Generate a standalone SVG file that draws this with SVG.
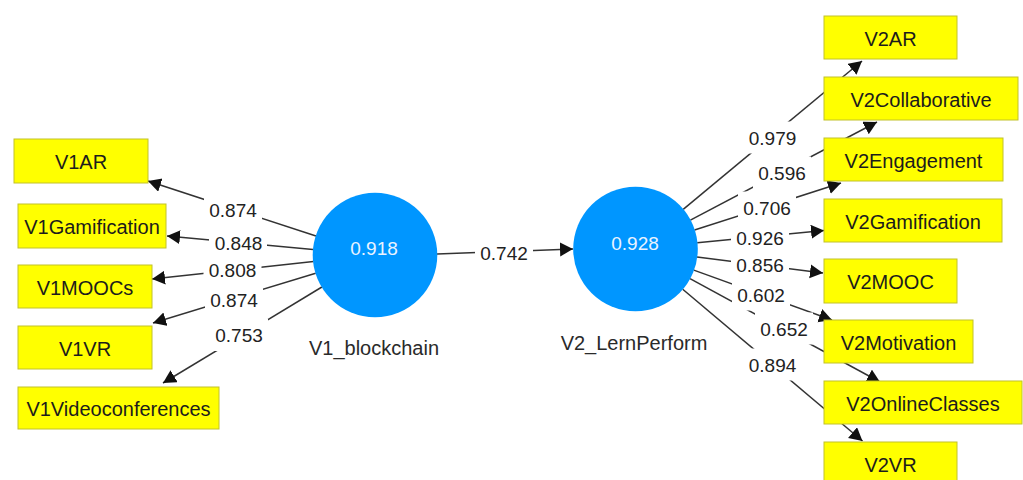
<svg xmlns="http://www.w3.org/2000/svg" width="1023" height="480" viewBox="0 0 1023 480">
  <defs>
    <marker id="arrow" markerUnits="userSpaceOnUse" markerWidth="16" markerHeight="16" refX="13" refY="7" orient="auto">
      <path d="M0,0 L13,7 L0,14 Z" fill="#111"/>
    </marker>
    <style>
      .edge { stroke: #333; stroke-width: 1.5; fill: none; marker-end: url(#arrow); }
      .lblbg { fill: #ffffff; }
      .lbl { font-family: "Liberation Sans", Arial, sans-serif; font-size: 19px; fill: #222; text-anchor: middle; }
      .box { fill: #ffff00; stroke: #c2c22a; stroke-width: 1; }
      .boxtxt { font-family: "Liberation Sans", Arial, sans-serif; font-size: 20px; fill: #1c1c1c; text-anchor: middle; }
      .lv { fill: #0096ff; }
      .lvval { font-family: "Liberation Sans", Arial, sans-serif; font-size: 19px; fill: #eaf3ff; text-anchor: middle; }
      .lvname { font-family: "Liberation Sans", Arial, sans-serif; font-size: 20px; fill: #2a2a2a; text-anchor: middle; }
    </style>
  </defs>

  <rect x="0" y="0" width="1023" height="480" fill="#ffffff"/>

  <!-- connectors: loadings and path coefficient -->
  <g id="connectors">
    <!-- V1_blockchain to its indicators -->
    <line class="edge" x1="316" y1="236" x2="148" y2="181"/>
    <line class="edge" x1="313" y1="249.4" x2="167" y2="236"/>
    <line class="edge" x1="313.4" y1="261.6" x2="152" y2="279"/>
    <line class="edge" x1="315.7" y1="273.2" x2="153" y2="323"/>
    <line class="edge" x1="321.9" y1="287" x2="163" y2="383"/>
    <!-- structural path -->
    <line class="edge" x1="437" y1="254" x2="573" y2="249"/>
    <!-- V2_LernPerform to its indicators -->
    <line class="edge" x1="683.2" y1="209.4" x2="862" y2="61"/>
    <line class="edge" x1="690.4" y1="220.1" x2="877" y2="122"/>
    <line class="edge" x1="694.5" y1="230" x2="841" y2="183"/>
    <line class="edge" x1="697.2" y1="242.8" x2="824" y2="230.5"/>
    <line class="edge" x1="697" y1="256.9" x2="823" y2="273"/>
    <line class="edge" x1="693.8" y1="270.1" x2="832" y2="320"/>
    <line class="edge" x1="690" y1="278.6" x2="880" y2="382"/>
    <line class="edge" x1="682.7" y1="289.2" x2="862.5" y2="441"/>

    <!-- coefficient labels -->
    <g id="labels">
      <rect class="lblbg" x="204" y="194" width="58" height="32"/>
      <text class="lbl" x="233" y="217">0.874</text>
      <rect class="lblbg" x="209" y="226.5" width="58" height="32"/>
      <text class="lbl" x="238.5" y="249.5">0.848</text>
      <rect class="lblbg" x="203.5" y="253.5" width="58" height="32"/>
      <text class="lbl" x="232.5" y="276.5">0.808</text>
      <rect class="lblbg" x="205" y="283.5" width="58" height="32"/>
      <text class="lbl" x="234" y="306.5">0.874</text>
      <rect class="lblbg" x="210" y="319" width="58" height="32"/>
      <text class="lbl" x="239" y="342">0.753</text>

      <rect class="lblbg" x="475" y="237" width="58" height="32"/>
      <text class="lbl" x="504" y="260">0.742</text>

      <rect class="lblbg" x="743.5" y="121.5" width="58" height="32"/>
      <text class="lbl" x="772.5" y="144.5">0.979</text>
      <rect class="lblbg" x="753" y="156.5" width="58" height="32"/>
      <text class="lbl" x="782" y="179.5">0.596</text>
      <rect class="lblbg" x="738" y="191.5" width="58" height="32"/>
      <text class="lbl" x="767" y="214.5">0.706</text>
      <rect class="lblbg" x="731" y="221.5" width="58" height="32"/>
      <text class="lbl" x="760" y="244.5">0.926</text>
      <rect class="lblbg" x="731" y="248.5" width="58" height="32"/>
      <text class="lbl" x="760" y="271.5">0.856</text>
      <rect class="lblbg" x="732" y="278.5" width="58" height="32"/>
      <text class="lbl" x="761" y="301.5">0.602</text>
      <rect class="lblbg" x="755" y="312.5" width="58" height="32"/>
      <text class="lbl" x="784" y="335.5">0.652</text>
      <rect class="lblbg" x="743.5" y="348.5" width="58" height="32"/>
      <text class="lbl" x="772.5" y="371.5">0.894</text>
    </g>
  </g>

  <!-- latent variables -->
  <g id="V1_blockchain">
    <circle class="lv" cx="375" cy="255" r="62.3"/>
    <text class="lvval" x="374" y="255">0.918</text>
    <text class="lvname" x="374" y="355">V1_blockchain</text>
  </g>
  <g id="V2_LernPerform">
    <circle class="lv" cx="635.5" cy="249" r="62.3"/>
    <text class="lvval" x="635" y="250">0.928</text>
    <text class="lvname" x="634" y="350">V2_LernPerform</text>
  </g>

  <!-- indicators of V1_blockchain -->
  <g id="V1AR">
    <rect class="box" x="14" y="139" width="134" height="44"/>
    <text class="boxtxt" x="81" y="169">V1AR</text>
  </g>
  <g id="V1Gamification">
    <rect class="box" x="18" y="204" width="148" height="44"/>
    <text class="boxtxt" x="92" y="234">V1Gamification</text>
  </g>
  <g id="V1MOOCs">
    <rect class="box" x="18" y="265" width="134" height="43"/>
    <text class="boxtxt" x="85" y="294.5">V1MOOCs</text>
  </g>
  <g id="V1VR">
    <rect class="box" x="18" y="326" width="134" height="43"/>
    <text class="boxtxt" x="85" y="355.5">V1VR</text>
  </g>
  <g id="V1Videoconferences">
    <rect class="box" x="18" y="387" width="201" height="42"/>
    <text class="boxtxt" x="118.5" y="416">V1Videoconferences</text>
  </g>

  <!-- indicators of V2_LernPerform -->
  <g id="V2AR">
    <rect class="box" x="824" y="16" width="133" height="43"/>
    <text class="boxtxt" x="890.5" y="45.5">V2AR</text>
  </g>
  <g id="V2Collaborative">
    <rect class="box" x="824" y="77" width="194" height="43"/>
    <text class="boxtxt" x="921" y="106.5">V2Collaborative</text>
  </g>
  <g id="V2Engagement">
    <rect class="box" x="824" y="138" width="179" height="43"/>
    <text class="boxtxt" x="913.5" y="167.5">V2Engagement</text>
  </g>
  <g id="V2Gamification">
    <rect class="box" x="824" y="199" width="178" height="43"/>
    <text class="boxtxt" x="913" y="228.5">V2Gamification</text>
  </g>
  <g id="V2MOOC">
    <rect class="box" x="824" y="259" width="133" height="44"/>
    <text class="boxtxt" x="890.5" y="289">V2MOOC</text>
  </g>
  <g id="V2Motivation">
    <rect class="box" x="824" y="320" width="149" height="43"/>
    <text class="boxtxt" x="898.5" y="349.5">V2Motivation</text>
  </g>
  <g id="V2OnlineClasses">
    <rect class="box" x="824" y="381" width="198" height="43"/>
    <text class="boxtxt" x="923" y="410.5">V2OnlineClasses</text>
  </g>
  <g id="V2VR">
    <rect class="box" x="824" y="442" width="133" height="43"/>
    <text class="boxtxt" x="890.5" y="471.5">V2VR</text>
  </g>
</svg>
